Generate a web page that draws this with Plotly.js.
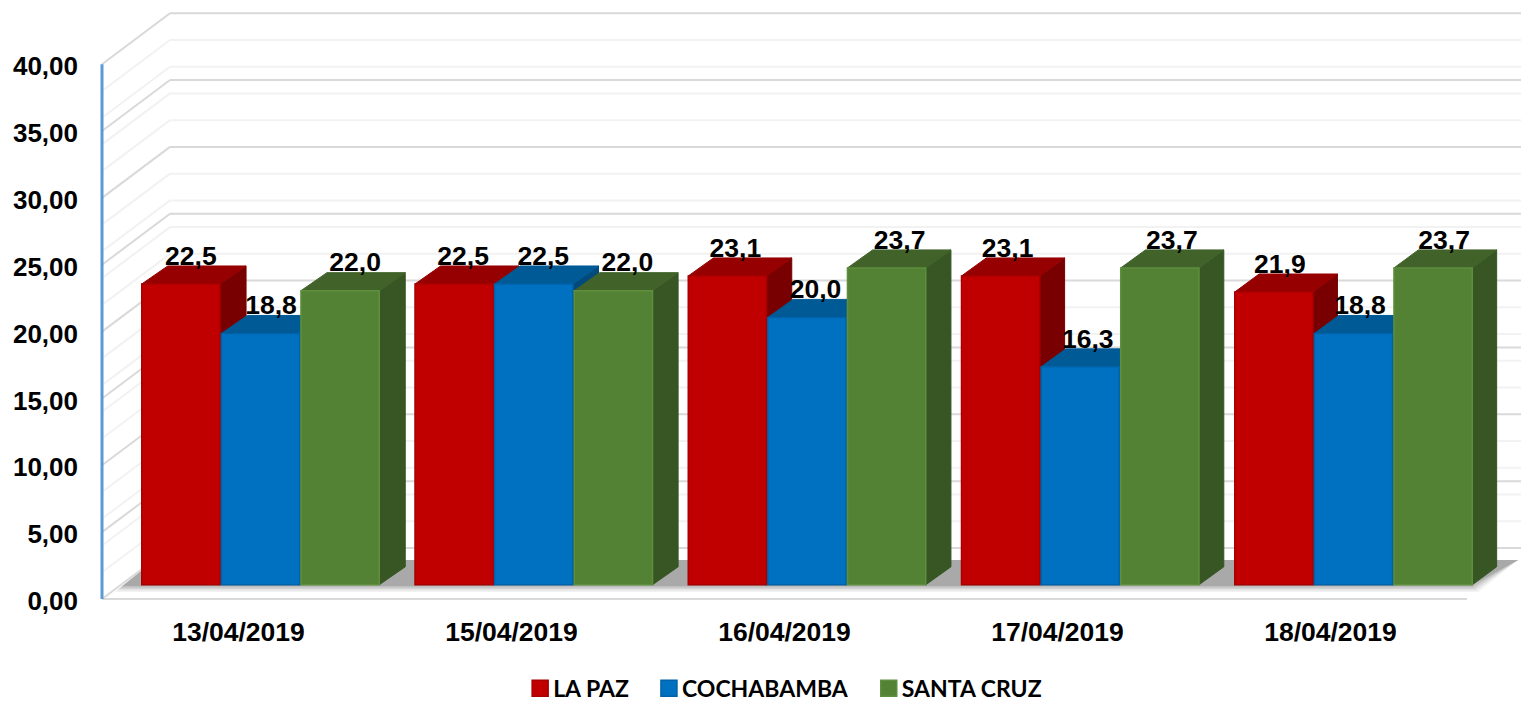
<!DOCTYPE html>
<html>
<head>
<meta charset="utf-8">
<script src="https://cdn.plot.ly/plotly-3.0.1.min.js"></script>
<style>html,body{margin:0;padding:0;background:#fff;overflow:hidden}#chart{width:1521px;height:701px}</style>
</head>
<body>
<div id="chart"></div>
<script>
// ---- chart data ----
const dates = ["13/04/2019","15/04/2019","16/04/2019","17/04/2019","18/04/2019"];
const seriesNames = ["LA PAZ","COCHABAMBA","SANTA CRUZ"];
const laPaz = [22.5,22.5,23.1,23.1,21.9];
const cochabamba = [18.8,22.5,20.0,16.3,18.8];
const santaCruz = [22.0,22.0,23.7,23.7,23.7];
const yTicks = [0,5,10,15,20,25,30,35,40];
const gridValues = [0,2,4,5,6,8,10,12,14,15,16,18,20,22,24,25,26,28,30,32,34,35,36,38,40];

// ---- styles ----
const seriesValues = [laPaz,cochabamba,santaCruz];
const frontColor = ["#C00000","#0070C0","#548235"];
const edgeColor  = ["#A80000","#0062A8","#5E8F3C"];
const topColor   = ["#960000","#005A96","#41632A"];
const sideColor  = ["#780000","#004A7C","#375623"];

// ---- projection: px per unit and screen anchor of the box ----
const PX_X = 273, PX_Y = 13.37, LEFT = 102, FLOOR = 599;
const X = px => -0.5 + (px - LEFT) / PX_X;   // screen px -> x data
const Y = py => (FLOOR - py) / PX_Y;         // screen py -> y data
const dX = px => px / PX_X, dY = py => py / PX_Y;

const BAR_W = dX(78.3);
const GROUP_STEP = dX(273.25);
const PLANE_X = dX(22), PLANE_Y = dY(14.2);  // bars stand this far into the box
const DEPTH_Y = dY(18);                      // depth of one bar
const depthX = g => dX(26 - 0.4 * g);        // slight perspective across the chart
const WALL_X = dX(68), WALL_Y = dY(51);      // depth of the whole box

const barX = (g, s) => g * GROUP_STEP + PLANE_X + (s - 1) * dX(79.6);
const poly = pts => "M" + pts.map(p => p[0] + "," + p[1]).join("L") + "Z";

// ---- box: walls, gridlines, shadow ----
const shapes = [];
const gridLine = (x0,y0,x1,y1,color,w) => shapes.push({type:"line",layer:"below",xref:"x",yref:"y",
  x0,y0,x1,y1,line:{color,width:w}});
gridValues.forEach(v => {
  const major = v % 5 === 0;
  const c = major ? "#D9D9D9" : "#F2F2F2", w = 2;
  gridLine(X(LEFT), v, X(LEFT) + WALL_X, v + WALL_Y, c, w);
  gridLine(X(LEFT) + WALL_X, v + WALL_Y, X(1521), v + WALL_Y, c, w);
});
gridLine(X(LEFT), 0, X(1467), 0, "#D9D9D9", 2);

// floor shadow, with a soft front edge
[[592,"#F2F2F2"],[590.5,"#E4E4E4"],[589,"#D2D2D2"],[587.5,"#BFBFBF"],[586,"#A9A9A9"]].forEach(([py,col]) => {
  const k = (592 - py) * 1.25;
  shapes.push({type:"path",layer:"below",xref:"x",yref:"y",line:{width:0},fillcolor:col,
    path:poly([[X(115+k),Y(py)],[X(155),Y(560)],[X(1518),Y(560)],[X(1478-k),Y(py)]])});
});
gridLine(X(LEFT), 0, X(LEFT), 40, "#5B9BD5", 3);

// ---- 3D tops and sides, from the values ----
dates.forEach((d, g) => {
  const DX = depthX(g);
  seriesValues.forEach((vals, s) => {
    const x0 = barX(g,s) - BAR_W/2, x1 = barX(g,s) + BAR_W/2;
    const y0 = PLANE_Y, y1 = PLANE_Y + vals[g];
    shapes.push({type:"path",layer:"below",xref:"x",yref:"y",fillcolor:sideColor[s],
      line:{color:sideColor[s],width:1},
      path:poly([[x1,y0],[x1+DX,y0+DEPTH_Y],[x1+DX,y1+DEPTH_Y],[x1,y1]])});
    shapes.push({type:"path",layer:"below",xref:"x",yref:"y",fillcolor:topColor[s],
      line:{color:topColor[s],width:1},
      path:poly([[x0,y1],[x0+DX,y1+DEPTH_Y],[x1+DX,y1+DEPTH_Y],[x1,y1]])});
  });
});

// ---- traces ----
const traces = seriesNames.map((name, s) => ({
  type:"bar", name,
  x: dates.map((d,g) => barX(g,s)),
  y: seriesValues[s],
  base: PLANE_Y,
  width: BAR_W,
  marker:{color:frontColor[s], line:{color:edgeColor[s], width:1.5}},
  hoverinfo:"skip"
}));
const labelShift = [0,0.5,5];
seriesNames.forEach((name, s) => {
  traces.push({
    type:"scatter", mode:"text", showlegend:false, hoverinfo:"skip", cliponaxis:false,
    x: dates.map((d,g) => barX(g,s) + dX(10 + labelShift[s] - g)),
    y: seriesValues[s].map(v => v + PLANE_Y + dY(25.8)),
    text: seriesValues[s].map(v => v.toFixed(1).replace(".",",")),
    textposition:"middle center",
    textfont:{family:"Liberation Sans, Arial, sans-serif", size:26.5, color:"#000", weight:700}
  });
});

const xFont = {family:"Liberation Sans, Arial, sans-serif", size:26.5, color:"#000", weight:700};
const yFont = {family:"Liberation Sans, Arial, sans-serif", size:26, color:"#000", weight:700};
const layout = {
  width:1521, height:701,
  paper_bgcolor:"#fff", plot_bgcolor:"#fff",
  margin:{l:98, r:0, t:0, b:96, pad:0},
  barmode:"overlay", separators:",.",
  xaxis:{range:[X(98), X(1521)], tickmode:"array", tickvals:dates.map((d,g)=>g), ticktext:dates,
    showgrid:false, zeroline:false, showline:false, ticks:"", tickfont:xFont, ticklabelstandoff:8, automargin:false, fixedrange:true},
  yaxis:{range:[Y(605), Y(0)], tickmode:"array", tickvals:yTicks, tickformat:".2f",
    showgrid:false, zeroline:false, showline:false, ticks:"", tickfont:yFont, ticklabelstandoff:19, ticklabelshift:2, automargin:false, fixedrange:true},
  shapes,
  showlegend:true,
  legend:{orientation:"h", x:0.485, xanchor:"center", xref:"paper", yref:"container", y:0.018, yanchor:"middle",
    font:{family:"Lato, sans-serif", size:23, color:"#000", weight:700},
    itemclick:false, itemdoubleclick:false, bgcolor:"rgba(0,0,0,0)"}
};
Plotly.newPlot("chart", traces, layout, {displayModeBar:false, staticPlot:true}).then(gd => {
  // larger legend swatches, closer to their labels, entries spaced a little wider
  gd.querySelectorAll(".legend .legendpoints path").forEach(p => {
    p.setAttribute("d", "M8,8H-8V-8H8Z");
    p.setAttribute("transform", "translate(27,0)");
  });
  const box = gd.querySelector(".legend .scrollbox");
  if (box) box.removeAttribute("clip-path");
  gd.querySelectorAll(".legend .traces").forEach((t, i) => {
    const m = /translate\(\s*([-\d.]+)[ ,]+([-\d.]+)/.exec(t.getAttribute("transform") || "");
    if (m) t.setAttribute("transform", "translate(" + (parseFloat(m[1]) + (i - 2) * 8) + "," + m[2] + ")");
  });
});
</script>
</body>
</html>
